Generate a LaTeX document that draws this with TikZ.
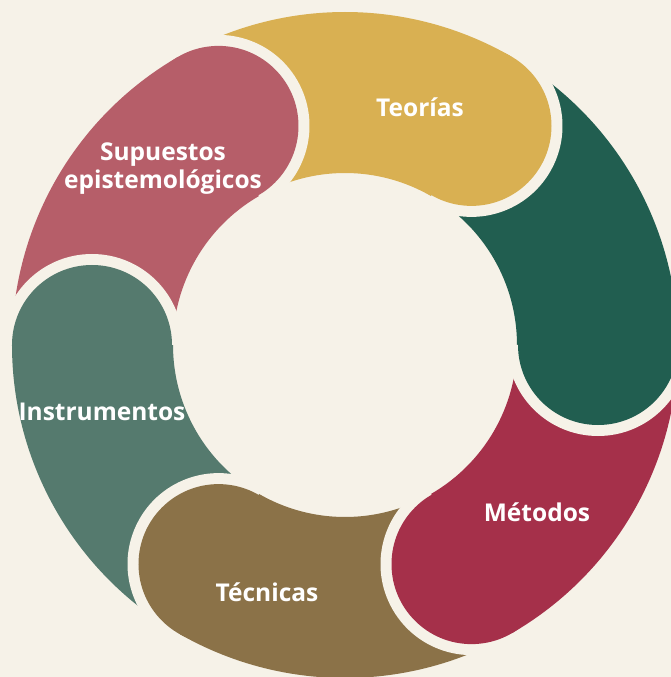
\documentclass[tikz,border=0pt]{standalone}
\usepackage{fontspec}
\setmainfont{Open Sans}
\usepackage{xcolor}
\usepackage{tikz}

\definecolor{bgcream}{HTML}{F6F2E8}
\definecolor{teoriacol}{HTML}{D9B052}
\definecolor{greencol}{HTML}{215E50}
\definecolor{metodocol}{HTML}{A5304A}
\definecolor{tecnicacol}{HTML}{8B7248}
\definecolor{instrucol}{HTML}{557A6E}
\definecolor{supuestocol}{HTML}{B65E69}

\begin{document}
\begin{tikzpicture}[
	label/.style={text=white, font=\fontsize{24.5}{28}\selectfont\bfseries, align=center},
	gap/.style={fill=bgcream}
	]
	\fill[bgcream] (-345pt,-332pt) rectangle (326pt,345pt);
	\useasboundingbox (-345pt,-332pt) rectangle (326pt,345pt);

	% cap centres on the middle of the ring
	\coordinate (capT) at (60:253pt);
	\coordinate (capG) at (0:253pt);
	\coordinate (capM) at (-60:253pt);
	\coordinate (capE) at (-120:253pt);
	\coordinate (capI) at (180:253pt);
	\coordinate (capS) at (120:253pt);

	% ring bodies
	\fill[teoriacol] (120:333pt) arc[start angle=120,end angle=60,radius=333pt] -- (60:172pt) arc[start angle=60,end angle=120,radius=172pt] -- cycle;
	\fill[greencol] (60:333pt) arc[start angle=60,end angle=0,radius=333pt] -- (0:172pt) arc[start angle=0,end angle=60,radius=172pt] -- cycle;
	\fill[metodocol] (0:333pt) arc[start angle=0,end angle=-60,radius=333pt] -- (-60:172pt) arc[start angle=-60,end angle=0,radius=172pt] -- cycle;
	\fill[tecnicacol] (-60:333pt) arc[start angle=-60,end angle=-120,radius=333pt] -- (-120:172pt) arc[start angle=-120,end angle=-60,radius=172pt] -- cycle;
	\fill[instrucol] (-120:333pt) arc[start angle=-120,end angle=-180,radius=333pt] -- (180:172pt) arc[start angle=180,end angle=240,radius=172pt] -- cycle;
	\fill[supuestocol] (180:333pt) arc[start angle=180,end angle=120,radius=333pt] -- (120:172pt) arc[start angle=120,end angle=180,radius=172pt] -- cycle;

	% rounded heads
	\fill[gap] (capT) ++(60:91pt) arc[start angle=60,end angle=-120,radius=91pt] -- cycle;
	\fill[teoriacol] (capT) circle[radius=80pt];
	\fill[gap] (capG) ++(0:91pt) arc[start angle=0,end angle=-180,radius=91pt] -- cycle;
	\fill[greencol] (capG) circle[radius=80pt];
	\fill[gap] (capM) ++(-60:91pt) arc[start angle=-60,end angle=-240,radius=91pt] -- cycle;
	\fill[metodocol] (capM) circle[radius=80pt];
	\fill[gap] (capE) ++(-120:91pt) arc[start angle=-120,end angle=-300,radius=91pt] -- cycle;
	\fill[tecnicacol] (capE) circle[radius=80pt];
	\fill[gap] (capI) ++(180:91pt) arc[start angle=180,end angle=0,radius=91pt] -- cycle;
	\fill[instrucol] (capI) circle[radius=80pt];
	\fill[gap] (capS) ++(120:91pt) arc[start angle=120,end angle=-60,radius=91pt] -- cycle;
	\fill[supuestocol] (capS) circle[radius=80pt];

	% labels
	\node[label] (teorias) at (75pt,238pt) {Teorías};
	\node[label] (supuestos) at (-182pt,176pt) {Supuestos\\epistemológicos};
	\node[label] (instrumentos) at (-243pt,-67pt) {Instrumentos};
	\node[label] (tecnicas) at (-78pt,-247pt) {Técnicas};
	\node[label] (metodos) at (192pt,-167pt) {Métodos};
\end{tikzpicture}
\end{document}
